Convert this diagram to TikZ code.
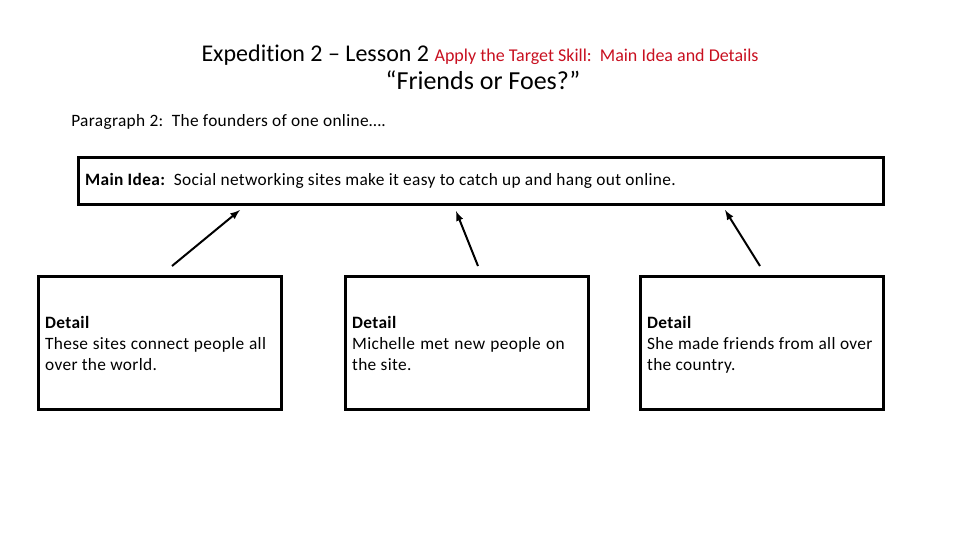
\documentclass[tikz,border=0pt]{standalone}
\usepackage{fontspec}
\setmainfont{Carlito}[Ligatures={TeX,NoCommon}]
\newfontfamily\bodyfont{Carlito}[Ligatures={TeX,NoCommon}, LetterSpace=2]
\usetikzlibrary{arrows, positioning}
\definecolor{skillred}{RGB}{200,16,32}

\begin{document}
\begin{tikzpicture}[x=0.75pt, y=-0.75pt, >=latex, font=\bodyfont\fontsize{13}{15.75}\selectfont,
    every node/.append style={execute at begin node={\spaceskip=0pt\xspaceskip=0pt}},
    ideabox/.style={draw, line width=2.2pt, rectangle, minimum width=604pt, minimum height=35pt, inner xsep=5pt, anchor=north west},
    detailbox/.style={draw, line width=2.2pt, rectangle, minimum width=182pt, minimum height=100pt, text width=172pt, inner xsep=5pt, align=left, anchor=north west},
    link/.style={->, line width=1.5pt}]
        \useasboundingbox (0,0) rectangle (960,540);

        % Heading
        \node [anchor=base, font=\rmfamily] (title) at (480,61) {\fontsize{18}{22}\selectfont Expedition 2 – Lesson 2 \fontsize{13.5}{16}\selectfont\color{skillred}Apply the Target Skill:\ \ Main Idea and Details};
        \node [anchor=base, font=\rmfamily] (story) at (483,89) {\fontsize{19.5}{23}\selectfont “Friends or Foes?”};
        \node [anchor=base west, inner sep=0pt] (para) at (71,126) {Paragraph 2:\ \ The founders of one online\dots.};

        % Main idea
        \node [ideabox, text width=594pt, align=left] (main) at (77,156) {\textbf{Main Idea:}\ \ Social networking sites make it easy to catch up and hang out online.};

        % Details
        \node [detailbox] (d1) at (37,275) {\rule{0pt}{14pt}\textbf{Detail}\\ These sites connect people all over the world.\strut};
        \node [detailbox] (d2) at (344,275) {\rule{0pt}{14pt}\textbf{Detail}\\ Michelle met new people on the site.\strut};
        \node [detailbox] (d3) at (639,275) {\rule{0pt}{14pt}\textbf{Detail}\\ She made friends from all over the country.\strut};

        % Arrow ends
        \coordinate (t1) at (172,266);
        \coordinate (h1) at (240,210);
        \coordinate (t2) at (478,266);
        \coordinate (h2) at (456,211);
        \coordinate (t3) at (760,266);
        \coordinate (h3) at (725,210);

        \draw [link] (t1) -- (h1);
        \draw [link] (t2) -- (h2);
        \draw [link] (t3) -- (h3);
    \end{tikzpicture}
\end{document}
